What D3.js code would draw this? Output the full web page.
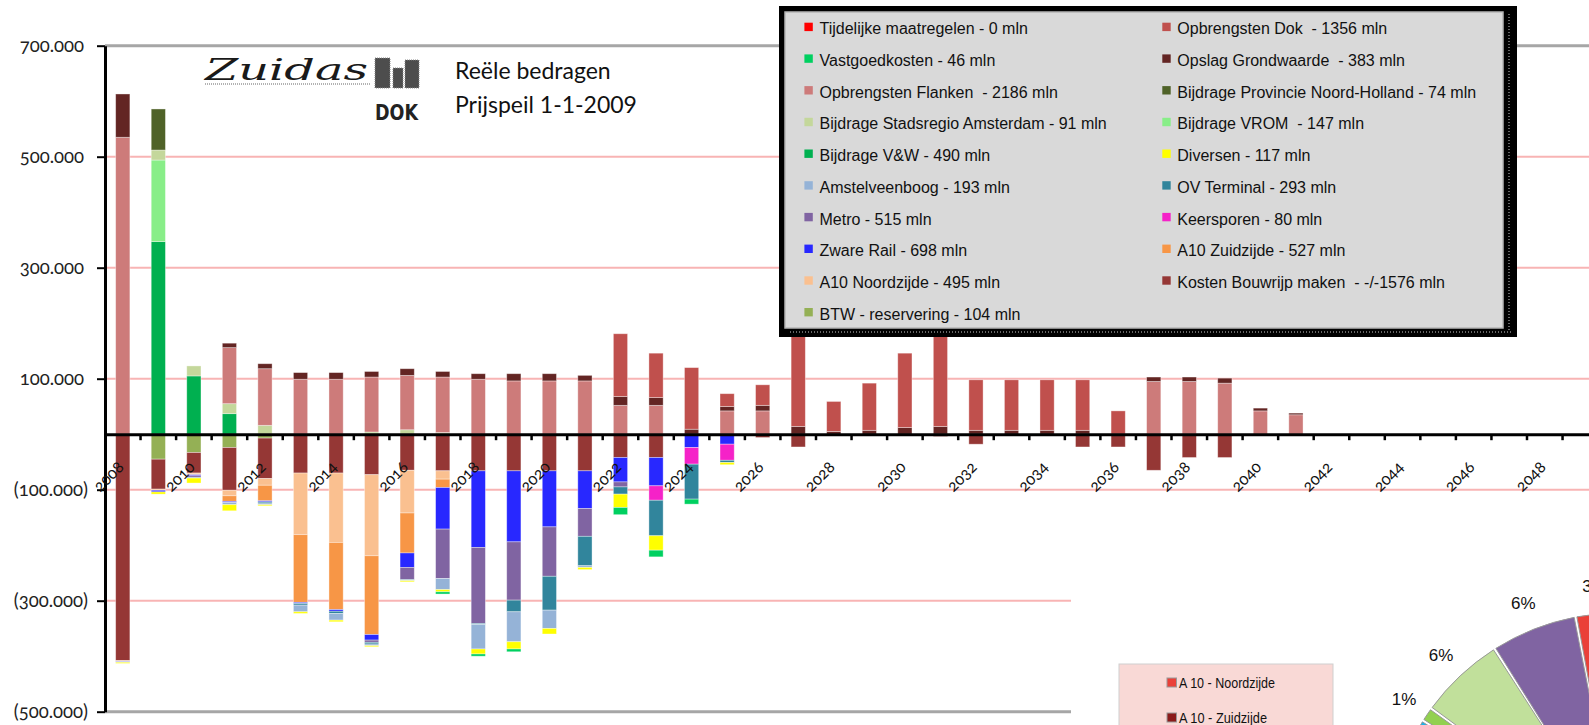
<!DOCTYPE html>
<html>
<head>
<meta charset="utf-8">
<script src="https://cdn.jsdelivr.net/npm/d3@7"></script>
<style>
body { margin: 0; background: #fff; overflow: hidden; }
text { white-space: pre; }
</style>
</head>
<body>
<div id="chart"></div>
<script>
// --- data (duizenden euro's, per jaar)

var years = [2008, 2009, 2010, 2011, 2012, 2013, 2014, 2015, 2016, 2017,
  2018, 2019, 2020, 2021, 2022, 2023, 2024, 2025, 2026, 2027,
  2028, 2029, 2030, 2031, 2032, 2033, 2034, 2035, 2036, 2037,
  2038, 2039, 2040, 2041, 2042, 2043, 2044, 2045, 2046, 2047,
  2048, 2049]

var yearLabels = [2008, 2010, 2012, 2014, 2016, 2018, 2020, 2022, 2024, 2026,
  2028, 2030, 2032, 2034, 2036, 2038, 2040, 2042, 2044, 2046, 2048]

var yTicks = [700, 500, 300, 100, -100, -300, -500]

// series values, 2008 .. 2041 (later years are empty)
//                 2008 ...                                      2018 ...                                        2028 ...                                  2038 ...
var bijdrageVW         = [0, 347, 105, 37, 0, 0, 0, 0, 0, 0,      0, 0, 0, 0, 0, 0, 0, 0, 0, 0,                   0, 0, 0, 0, 0, 0, 0, 0, 0, 0,            0, 0, 0, 0]
var bijdrageVROM       = [0, 147, 0, 0, 0, 0, 0, 0, 0, 0,         0, 0, 0, 0, 0, 0, 0, 0, 0, 0,                   0, 0, 0, 0, 0, 0, 0, 0, 0, 0,            0, 0, 0, 0]
var bijdrageStadsregio = [0, 18, 18, 18, 16, 0, 0, 4, 8, 3,       0, 0, 0, 0, 0, 0, 0, 0, 0, 0,                   0, 0, 0, 0, 0, 0, 0, 0, 0, 0,            0, 0, 0, 0]
var opbrengstenFlanken = [535, 0, 0, 101, 102, 99, 99, 99, 98, 100, 99, 96, 96, 96, 52, 52, 0, 42, 42, 0,        0, 0, 0, 0, 0, 0, 0, 0, 0, 95,           95, 92, 42, 35]
var bijdrageProvincie  = [0, 74, 0, 0, 0, 0, 0, 0, 0, 0,          0, 0, 0, 0, 0, 0, 0, 0, 0, 0,                   0, 0, 0, 0, 0, 0, 0, 0, 0, 0,            0, 0, 0, 0]
var opslagGrondwaarde  = [78, 0, 0, 8, 9, 12, 12, 10, 12, 10,     10, 13, 13, 10, 16, 14, 9, 8, 10, 14,           5, 7, 12, 14, 7, 7, 7, 7, 0, 8,          8, 9, 5, 3]
var opbrengstenDok     = [0, 0, 0, 0, 0, 0, 0, 0, 0, 0,           0, 0, 0, 0, 113, 80, 111, 23, 37, 170,          54, 85, 134, 165, 91, 91, 91, 91, 42, 0, 0, 0, 0, 0]
var btwReservering     = [0, -45, -33, -24, -7, 0, 0, 0, 0, 0,    0, 0, 0, 0, 0, 0, 0, 0, 0, 0,                   0, 0, 0, 0, 0, 0, 0, 0, 0, 0,            0, 0, 0, 0]
var kostenBouwrijp     = [-408, -54, -37, -77, -73, -70, -70, -73, -65, -66, -66, -66, -66, -66, -42, -42, 0, 0, -6, -23, 0, 0, 0, -4, -18, 0, 0, -23, -23, -65, -42, -42, 0, 0]
var a10Noordzijde      = [-1, -2, -2, -10, -12, -111, -125, -146, -77, -15, 0, 0, 0, 0, 0, 0, 0, 0, 0, 0,         0, 0, 0, 0, 0, 0, 0, 0, 0, 0,            0, 0, 0, 0]
var a10Zuidzijde       = [0, 0, -1, -10, -28, -122, -121, -142, -72, -15,  0, 0, 0, 0, 0, 0, 0, 0, 0, 0,          0, 0, 0, 0, 0, 0, 0, 0, 0, 0,            0, 0, 0, 0]
var zwareRail          = [-1, -3, -2, -2, -2, -2, -3, -10, -26, -75, -138, -128, -101, -68, -44, -51, -24, -18, 0, 0, 0, 0, 0, 0, 0, 0, 0, 0, 0, 0,     0, 0, 0, 0]
var keersporen         = [0, 0, 0, 0, 0, 0, 0, 0, 0, 0,           0, 0, 0, 0, 0, -26, -30, -29, 0, 0,             0, 0, 0, 0, 0, 0, 0, 0, 0, 0,            0, 0, 0, 0]
var metro              = [0, 0, -3, 0, 0, 0, 0, -4, -22, -89,     -137, -105, -89, -50, -9, 0, 0, 0, 0, 0,        0, 0, 0, 0, 0, 0, 0, 0, 0, 0,            0, 0, 0, 0]
var ovTerminal         = [0, 0, -1, 0, -2, -3, -4, -3, -1, 0,     -2, -21, -61, -53, -13, -64, -63, -4, 0, 0,     0, 0, 0, 0, 0, 0, 0, 0, 0, 0,            0, 0, 0, 0]
var amstelveenboog     = [-1, 0, 0, -4, -3, -12, -12, -3, -1, -20, -44, -54, -33, -3, 0, 0, 0, 0, 0, 0,          0, 0, 0, 0, 0, 0, 0, 0, 0, 0,            0, 0, 0, 0]
var diversen           = [-2, -4, -9, -11, -2, -3, -3, -2, -2, -4, -9, -13, -10, -4, -24, -26, 0, -4, 0, 0,      0, 0, 0, 0, 0, 0, 0, 0, 0, 0,            0, 0, 0, 0]
var vastgoedkosten     = [0, 0, 0, 0, 0, 0, 0, 0, 0, -4,          -4, -5, 0, 0, -13, -12, -9, 0, 0, 0,            0, 0, 0, 0, 0, 0, 0, 0, 0, 0,            0, 0, 0, 0]
var tijdelijk          = [0, 0, 0, 0, 0, 0, 0, 0, 0, 0,           0, 0, 0, 0, 0, 0, 0, 0, 0, 0,                   0, 0, 0, 0, 0, 0, 0, 0, 0, 0,            0, 0, 0, 0]

// legend texts
var legendLeft = [
  ['tijdelijk', 'Tijdelijke maatregelen - 0 mln'],
  ['vastgoed', 'Vastgoedkosten - 46 mln'],
  ['flanken', 'Opbrengsten Flanken  - 2186 mln'],
  ['stadsregio', 'Bijdrage Stadsregio Amsterdam - 91 mln'],
  ['vw', 'Bijdrage V&W - 490 mln'],
  ['amstelveen', 'Amstelveenboog - 193 mln'],
  ['metro', 'Metro - 515 mln'],
  ['zwareRail', 'Zware Rail - 698 mln'],
  ['a10n', 'A10 Noordzijde - 495 mln'],
  ['btw', 'BTW - reservering - 104 mln']
]
var legendRight = [
  ['dok', 'Opbrengsten Dok  - 1356 mln'],
  ['opslag', 'Opslag Grondwaarde  - 383 mln'],
  ['provincie', 'Bijdrage Provincie Noord-Holland - 74 mln'],
  ['vrom', 'Bijdrage VROM  - 147 mln'],
  ['diversen', 'Diversen - 117 mln'],
  ['ov', 'OV Terminal - 293 mln'],
  ['keersporen', 'Keersporen - 80 mln'],
  ['a10z', 'A10 Zuidzijde - 527 mln'],
  ['kosten', 'Kosten Bouwrijp maken  - -/-1576 mln']
]

// second (pie) chart, mostly outside the picture; only the visible labels
var pieLabels = ['3%', '6%', '6%', '1%', '', '']
var pieValues = [3, 6, 6, 1, 6, 78]
var pieLegend = ['A 10 - Noordzijde', 'A 10 - Zuidzijde']

// --- settings

var settings = {}
settings.width = 1589
settings.height = 725
settings.left = 105
settings.step = 35.55
settings.font = 'Liberation Sans, Arial, sans-serif'
settings.axisFont = 'Lato, Open Sans, sans-serif'

var colors = {
  vw: '#00b050', vrom: '#88ee88', stadsregio: '#c4d79b', flanken: '#cd7b7a',
  provincie: '#4f6228', opslag: '#632523', dok: '#c0504d',
  btw: '#94b055', kosten: '#953735', a10n: '#fac090', a10z: '#f79646',
  zwareRail: '#2828ff', keersporen: '#f522c8', metro: '#8064a2', ov: '#31859c',
  amstelveen: '#95b3d7', diversen: '#ffff00', vastgoed: '#00d060', tijdelijk: '#ff0000'
}
var pieColors = ['#ea4038', '#8064a2', '#c1e09b', '#92d050', '#1db3ea', '#8b1a1a']

// stack order: revenues upward, costs downward
var series = {
  vw: bijdrageVW, vrom: bijdrageVROM, stadsregio: bijdrageStadsregio, flanken: opbrengstenFlanken,
  provincie: bijdrageProvincie, opslag: opslagGrondwaarde, dok: opbrengstenDok,
  btw: btwReservering, kosten: kostenBouwrijp, a10n: a10Noordzijde, a10z: a10Zuidzijde,
  zwareRail: zwareRail, keersporen: keersporen, metro: metro, ov: ovTerminal,
  amstelveen: amstelveenboog, diversen: diversen, vastgoed: vastgoedkosten, tijdelijk: tijdelijk
}
var keys = Object.keys(series)

var table = years.map(function(yr, i){
  var row = {year: yr}
  keys.forEach(function(k){ row[k] = series[k][i] || 0 })
  return row
})

// --- svg

var svg = d3.select('#chart').append('svg')
  .attr('width', settings.width)
  .attr('height', settings.height)
  .style('font-family', settings.font)

var x = d3.scaleBand()
  .domain(years)
  .range([settings.left, settings.left + years.length * settings.step])
  .paddingInner(0.6)
  .paddingOuter(0.3)

var y = d3.scaleLinear()
  .domain([-500, 700])
  .range([711.7, 45.7])

// gridlines
svg.append('g').selectAll('line')
  .data(yTicks)
  .join('line')
  .attr('x1', settings.left)
  .attr('x2', settings.width)
  .attr('y1', d => y(d))
  .attr('y2', d => y(d))
  .attr('stroke', d => (d === 700 || d === -500) ? '#a6a6a6' : '#f8b4b4')
  .attr('stroke-width', d => (d === 700 || d === -500) ? 3 : 2)

// bars
var layers = d3.stack().keys(keys).offset(d3.stackOffsetDiverging)(table)

svg.append('g').selectAll('g')
  .data(layers)
  .join('g')
  .attr('fill', d => colors[d.key])
  .selectAll('rect')
  .data(d => d.filter(p => p[1] !== p[0]))
  .join('rect')
  .attr('x', d => x(d.data.year))
  .attr('width', x.bandwidth())
  .attr('y', d => y(Math.max(d[0], d[1])))
  .attr('height', d => Math.abs(y(d[0]) - y(d[1])))
  .attr('stroke', 'rgba(255,255,255,0.45)')
  .attr('stroke-width', 0.8)

// y axis
var fmt = d3.formatLocale({decimal: ',', thousands: '.', grouping: [3], currency: ['', '']}).format(',.0f')

var yAxis = svg.append('g')
  .attr('transform', 'translate(' + settings.left + ',0)')
  .call(d3.axisLeft(y)
    .tickValues(yTicks)
    .tickSize(8)
    .tickSizeOuter(0)
    .tickPadding(9)
    .tickFormat(d => d < 0 ? '(' + fmt(-d * 1000) + ')' : fmt(d * 1000)))

yAxis.select('.domain').attr('stroke', '#000').attr('stroke-width', 3)
yAxis.selectAll('.tick line').attr('stroke', '#000').attr('stroke-width', 2)
yAxis.selectAll('.tick text')
  .attr('font-family', settings.axisFont)
  .attr('font-size', 18.5)
  .attr('fill', '#222')
  .style('font-variant-numeric', 'oldstyle-nums')
  .attr('dx', d => d < 0 ? 0 : -4)

// x axis
var xAxis = svg.append('g')
  .attr('transform', 'translate(0,' + y(0) + ')')
  .call(d3.axisBottom(x).tickValues(yearLabels).tickSize(0).tickSizeOuter(0))

xAxis.select('.domain').attr('stroke', '#000').attr('stroke-width', 3)
xAxis.selectAll('.tick text')
  .attr('x', 0).attr('y', 0).attr('dy', 0)
  .attr('transform', 'translate(2,34) rotate(-45)')
  .attr('text-anchor', 'end')
  .attr('font-family', settings.axisFont)
  .attr('font-size', 16)
  .attr('fill', '#111')
  .style('font-variant-numeric', 'oldstyle-nums')

// tick marks between the years
xAxis.append('g').selectAll('line')
  .data(years)
  .join('line')
  .attr('x1', d => x(d) + x.bandwidth() / 2 + x.step() / 2)
  .attr('x2', d => x(d) + x.bandwidth() / 2 + x.step() / 2)
  .attr('y1', 0)
  .attr('y2', 6)
  .attr('stroke', '#000')
  .attr('stroke-width', 2.5)

// logo
var logo = svg.append('g')
logo.append('text')
  .attr('x', 205).attr('y', 80)
  .text('Zuidas')
  .attr('font-family', 'DejaVu Serif, serif')
  .attr('font-style', 'italic')
  .attr('font-size', 30)
  .attr('textLength', 163)
  .attr('lengthAdjust', 'spacingAndGlyphs')
  .attr('fill', '#1a1a1a')
logo.append('line')
  .attr('x1', 205).attr('x2', 370).attr('y1', 84).attr('y2', 84)
  .attr('stroke', '#999').attr('stroke-width', 1.5).attr('stroke-dasharray', '1,1')
logo.selectAll('rect')
  .data([[375, 58, 15, 30], [393, 68, 10, 20], [405, 60, 14, 28]])
  .join('rect')
  .attr('x', d => d[0]).attr('y', d => d[1]).attr('width', d => d[2]).attr('height', d => d[3])
  .attr('fill', '#4d4d4d')
  .attr('stroke', '#888').attr('stroke-dasharray', '1,1')
logo.append('text')
  .attr('x', 375).attr('y', 120)
  .text('DOK')
  .attr('font-family', 'DejaVu Sans Condensed, DejaVu Sans, sans-serif')
  .attr('font-weight', 'bold')
  .attr('font-size', 22)
  .attr('textLength', 43)
  .attr('lengthAdjust', 'spacingAndGlyphs')
  .attr('fill', '#222')

// title
svg.append('text').attr('x', 455).attr('y', 79).text('Reële bedragen')
  .attr('font-family', 'Lato, sans-serif').attr('font-size', 23).attr('fill', '#111')
svg.append('text').attr('x', 455).attr('y', 113).text('Prijspeil 1-1-2009')
  .attr('font-family', 'Lato, sans-serif').attr('font-size', 23).attr('fill', '#111')

// legend
var lg = svg.append('g')
lg.append('rect').attr('x', 779).attr('y', 6).attr('width', 738).attr('height', 331).attr('fill', '#000')
lg.append('rect').attr('x', 785).attr('y', 12).attr('width', 718).attr('height', 316)
  .attr('fill', '#d9d9d9').attr('stroke', '#b5b5b5').attr('stroke-width', 1.5)
lg.append('line').attr('x1', 790).attr('x2', 1512).attr('y1', 332).attr('y2', 332)
  .attr('stroke', '#666').attr('stroke-width', 2).attr('stroke-dasharray', '1,2')
lg.append('line').attr('x1', 1509).attr('x2', 1509).attr('y1', 14).attr('y2', 332)
  .attr('stroke', '#666').attr('stroke-width', 2).attr('stroke-dasharray', '1,2')

function legendColumn(items, sx, tx){
  var g = lg.append('g').selectAll('g')
    .data(items)
    .join('g')
    .attr('transform', (d, i) => 'translate(0,' + (22.7 + i * 31.7) + ')')
  g.append('rect')
    .attr('x', sx).attr('y', 0).attr('width', 8.4).attr('height', 8.4)
    .attr('fill', d => colors[d[0]])
  g.append('text')
    .attr('x', tx).attr('y', 11.6)
    .text(d => d[1])
    .attr('font-size', 16)
    .attr('fill', '#111')
}
legendColumn(legendLeft, 804.4, 819.5)
legendColumn(legendRight, 1162.3, 1177.3)

// second chart panel (pie), cut off by the window
var panel = svg.append('g')
panel.append('rect').attr('x', 1071).attr('y', 545).attr('width', 520).attr('height', 185).attr('fill', '#fff')

panel.append('rect').attr('x', 1119).attr('y', 664).attr('width', 214).attr('height', 70)
  .attr('fill', '#f9d9d6').attr('stroke', '#cfcfcf')
var pl = panel.append('g').selectAll('g')
  .data(pieLegend)
  .join('g')
  .attr('transform', (d, i) => 'translate(0,' + (678 + i * 35) + ')')
pl.append('rect')
  .attr('x', 1167).attr('y', 0).attr('width', 9.5).attr('height', 9)
  .attr('fill', (d, i) => i === 0 ? '#ea4038' : '#8b1a1a')
  .attr('stroke', '#999')
pl.append('text')
  .attr('x', 1179).attr('y', 10)
  .text(d => d)
  .attr('font-size', 14)
  .attr('textLength', (d, i) => i === 0 ? 96 : 88)
  .attr('lengthAdjust', 'spacingAndGlyphs')
  .attr('fill', '#111')

var pie = d3.pie().sort(null).startAngle(0).endAngle(-2 * Math.PI)
var arcs = pie(pieValues)
var arc = d3.arc().innerRadius(0).outerRadius(232).padAngle(0.012)
var labelArc = d3.arc().innerRadius(260).outerRadius(260)

var pg = panel.append('g').attr('transform', 'translate(1619,845)')
pg.selectAll('path')
  .data(arcs)
  .join('path')
  .attr('d', arc)
  .attr('fill', (d, i) => pieColors[i])
  .attr('stroke', '#999')
  .attr('stroke-width', 1)
pg.selectAll('text')
  .data(arcs.filter((d, i) => pieLabels[i] !== ''))
  .join('text')
  .attr('transform', d => 'translate(' + labelArc.centroid(d) + ')')
  .attr('text-anchor', 'middle')
  .attr('dy', '0.35em')
  .text(d => pieLabels[d.index])
  .attr('font-size', 17)
  .attr('fill', '#111')
</script>
</body>
</html>
